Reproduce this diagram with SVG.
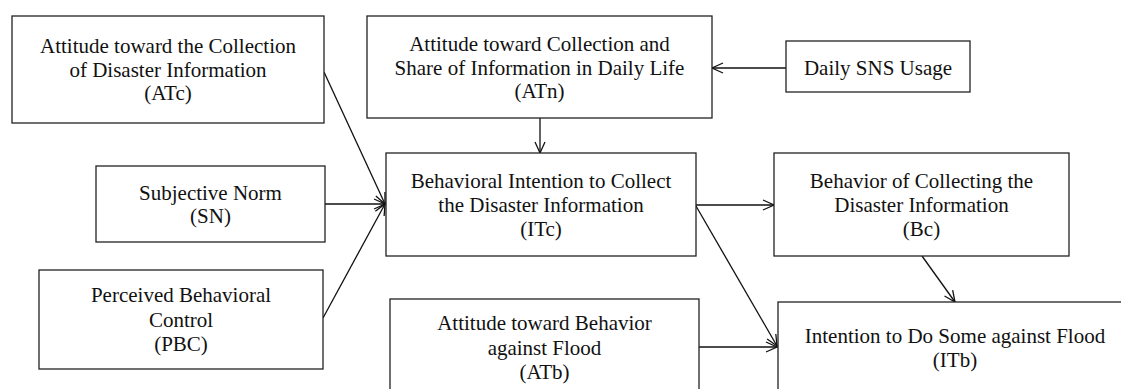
<svg xmlns="http://www.w3.org/2000/svg" width="1121" height="389" viewBox="0 0 1121 389">
<style>
.box{fill:#fff;stroke:#222;stroke-width:1.3}
text{font-family:'Liberation Serif',serif;font-size:21px;fill:#111;text-anchor:middle}
.c{stroke:#111;stroke-width:1.3;fill:none;marker-end:url(#arr)}
</style>
<defs>
<marker id="arr" markerUnits="userSpaceOnUse" markerWidth="14" markerHeight="12" refX="11" refY="5" orient="auto" overflow="visible">
<path d="M0,0 L11,5 L0,10" fill="none" stroke="#111" stroke-width="1.3"/>
</marker>
</defs>
<rect width="1121" height="389" fill="#fff"/>
<g id="connectors">
<line class="c" x1="324" y1="72" x2="385" y2="204"/>
<line class="c" x1="325" y1="204" x2="385" y2="204"/>
<line class="c" x1="323" y1="318" x2="385" y2="204"/>
<line class="c" x1="786" y1="68" x2="712" y2="68"/>
<line class="c" x1="540" y1="118" x2="540" y2="153"/>
<line class="c" x1="696" y1="205" x2="774" y2="205"/>
<line class="c" x1="696" y1="206" x2="777" y2="346"/>
<line class="c" x1="922" y1="256" x2="955" y2="302"/>
<line class="c" x1="699" y1="347" x2="777" y2="347"/>
</g>
<g id="ATc" font-family="Liberation Serif, serif">
<rect class="box" x="12" y="16" width="312" height="107"/>
<text x="168" y="53">Attitude toward the Collection</text>
<text x="168" y="77">of Disaster Information</text>
<text x="168" y="100">(ATc)</text>
</g>
<g id="SN">
<rect class="box" x="96" y="166" width="229" height="76"/>
<text x="210.5" y="200">Subjective Norm</text>
<text x="210.5" y="223">(SN)</text>
</g>
<g id="PBC">
<rect class="box" x="39" y="270" width="284" height="99"/>
<text x="181" y="302">Perceived Behavioral</text>
<text x="181" y="327">Control</text>
<text x="181" y="351">(PBC)</text>
</g>
<g id="ATn">
<rect class="box" x="367" y="16" width="345" height="102"/>
<text x="539.5" y="51">Attitude toward Collection and</text>
<text x="539.5" y="75">Share of Information in Daily Life</text>
<text x="539.5" y="98">(ATn)</text>
</g>
<g id="SNS">
<rect class="box" x="786" y="41" width="184" height="51"/>
<text x="878" y="75">Daily SNS Usage</text>
</g>
<g id="ITc">
<rect class="box" x="386" y="153" width="310" height="103"/>
<text x="541" y="188">Behavioral Intention to Collect</text>
<text x="541" y="212">the Disaster Information</text>
<text x="541" y="236">(ITc)</text>
</g>
<g id="Bc">
<rect class="box" x="774" y="153" width="295" height="103"/>
<text x="921.5" y="188">Behavior of Collecting the</text>
<text x="921.5" y="212">Disaster Information</text>
<text x="921.5" y="236">(Bc)</text>
</g>
<g id="ATb">
<rect class="box" x="390" y="299" width="309" height="110"/>
<text x="544.5" y="330">Attitude toward Behavior</text>
<text x="544.5" y="355">against Flood</text>
<text x="544.5" y="379">(ATb)</text>
</g>
<g id="ITb">
<rect class="box" x="778" y="302" width="360" height="110"/>
<text x="955" y="343">Intention to Do Some against Flood</text>
<text x="955" y="367">(ITb)</text>
</g>
</svg>
